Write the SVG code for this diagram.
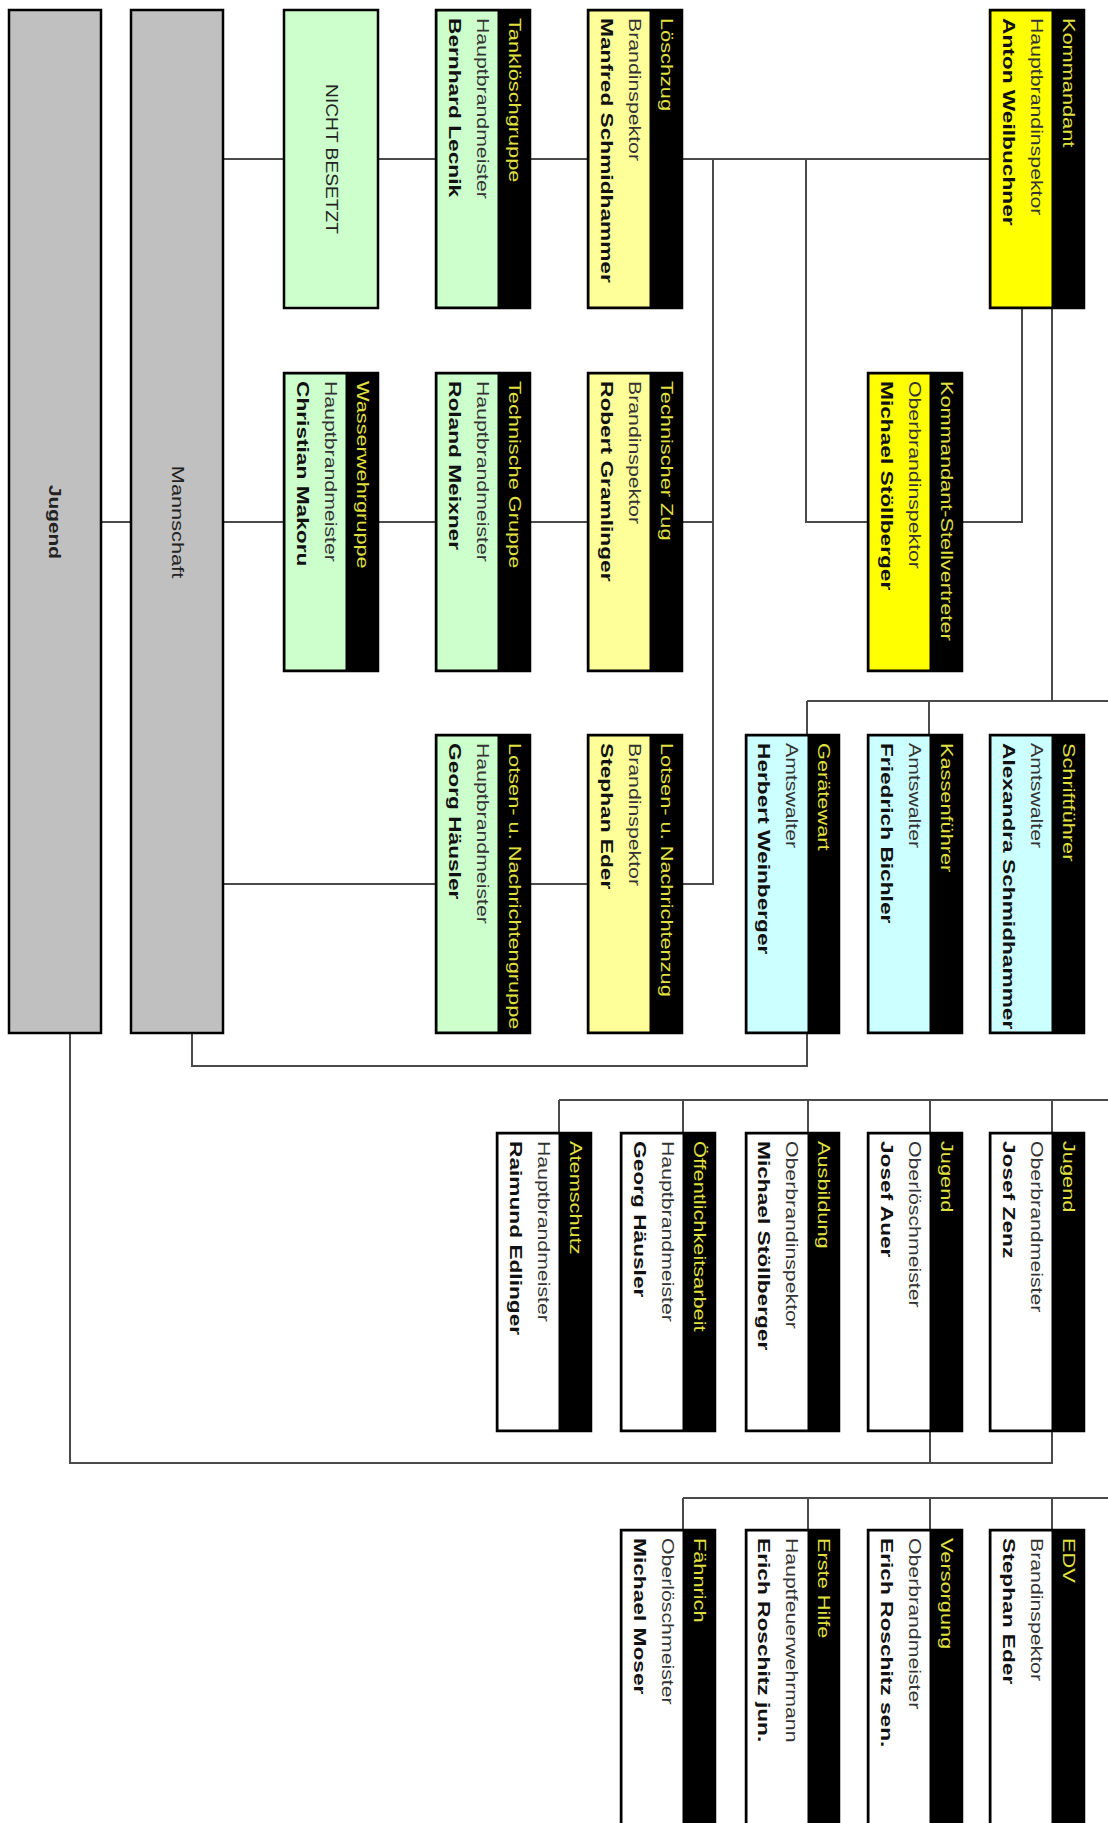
<svg xmlns="http://www.w3.org/2000/svg" width="1108" height="1823" viewBox="0 0 1108 1823">
<style>
.bg{fill:#ffffff}
.conn line,.conn polyline{stroke:#4a4a4a;stroke-width:2;fill:none}
.frame{fill:#000;stroke:#000;stroke-width:2.5}
.body{stroke:#000;stroke-width:1}
.y{fill:#ffff00}.ly{fill:#ffff99}.g{fill:#ccffcc}.c{fill:#ccffff}.w{fill:#ffffff}.gr{fill:#c0c0c0;stroke:#000;stroke-width:2.5}
text{font-family:"Liberation Sans",Arial,sans-serif;font-size:16px;dominant-baseline:central}
.title{fill:#e0e040}
.rank{fill:#333333}
.name{fill:#111111;font-weight:bold}
.plain{fill:#222222}
</style>
<rect class="bg" x="0" y="0" width="1108" height="1823"/>
<g id="connectors" class="conn">
<line x1="223" y1="159" x2="990" y2="159"/>
<polyline points="713,159 713,884 223,884"/>
<polyline points="806,159 806,522 868,522"/>
<line x1="101" y1="522" x2="713" y2="522"/>
<polyline points="962,522 1022,522 1022,308"/>
<line x1="1052" y1="308" x2="1052" y2="701"/>
<line x1="807" y1="701" x2="1108" y2="701"/>
<line x1="807" y1="701" x2="807" y2="735"/>
<line x1="929" y1="701" x2="929" y2="735"/>
<polyline points="807,1033 807,1066 192,1066 192,1033"/>
<line x1="559" y1="1100" x2="1108" y2="1100"/>
<line x1="559" y1="1100" x2="559" y2="1133"/>
<line x1="683" y1="1100" x2="683" y2="1133"/>
<line x1="808" y1="1100" x2="808" y2="1133"/>
<line x1="930" y1="1100" x2="930" y2="1133"/>
<line x1="1052" y1="1100" x2="1052" y2="1133"/>
<polyline points="70,1033 70,1463 1052,1463 1052,1431"/>
<line x1="930" y1="1431" x2="930" y2="1463"/>
<line x1="683" y1="1498" x2="1108" y2="1498"/>
<line x1="683" y1="1498" x2="683" y2="1530"/>
<line x1="808" y1="1498" x2="808" y2="1530"/>
<line x1="930" y1="1498" x2="930" y2="1530"/>
<line x1="1052" y1="1498" x2="1052" y2="1530"/>
</g>

<g id="jugend-gruppe">
<rect class="gr" x="9" y="10" width="92" height="1023"/>
<text class="plain" font-weight="bold" transform="translate(55,522) rotate(90) scale(1.3,1)" text-anchor="middle">Jugend</text>
</g>
<g id="mannschaft">
<rect class="gr" x="131" y="10" width="92" height="1023"/>
<text class="plain" transform="translate(177,522) rotate(90) scale(1.36,1)" text-anchor="middle">Mannschaft</text>
</g>

<g id="nicht-besetzt">
<rect class="g" x="284" y="10" width="94" height="298" stroke="#000" stroke-width="2.5"/>
<text class="plain" transform="translate(331,159) rotate(90) scale(1.2,1)" text-anchor="middle">NICHT BESETZT</text>
</g>

<g id="tankloeschgruppe">
<rect class="frame" x="436" y="10" width="94" height="298"/>
<rect class="body g" x="437" y="11" width="61" height="296"/>
<text class="title" transform="translate(514,18) rotate(90) scale(1.36,1)">Tanklöschgruppe</text>
<text class="rank" transform="translate(483,18) rotate(90) scale(1.33,1)">Hauptbrandmeister</text>
<text class="name" transform="translate(455,18) rotate(90) scale(1.42,1)">Bernhard Lecnik</text>
</g>

<g id="loeschzug">
<rect class="frame" x="588" y="10" width="94" height="298"/>
<rect class="body ly" x="589" y="11" width="61" height="296"/>
<text class="title" transform="translate(666,18) rotate(90) scale(1.36,1)">Löschzug</text>
<text class="rank" transform="translate(635,18) rotate(90) scale(1.33,1)">Brandinspektor</text>
<text class="name" transform="translate(607,18) rotate(90) scale(1.42,1)">Manfred Schmidhammer</text>
</g>

<g id="kommandant">
<rect class="frame" x="990" y="10" width="94" height="298"/>
<rect class="body y" x="991" y="11" width="61" height="296"/>
<text class="title" transform="translate(1068,18) rotate(90) scale(1.36,1)">Kommandant</text>
<text class="rank" transform="translate(1037,18) rotate(90) scale(1.33,1)">Hauptbrandinspektor</text>
<text class="name" transform="translate(1009,18) rotate(90) scale(1.42,1)">Anton Weilbuchner</text>
</g>

<g id="wasserwehrgruppe">
<rect class="frame" x="284" y="373" width="94" height="298"/>
<rect class="body g" x="285" y="374" width="61" height="296"/>
<text class="title" transform="translate(362,381) rotate(90) scale(1.36,1)">Wasserwehrgruppe</text>
<text class="rank" transform="translate(331,381) rotate(90) scale(1.33,1)">Hauptbrandmeister</text>
<text class="name" transform="translate(303,381) rotate(90) scale(1.42,1)">Christian Makoru</text>
</g>

<g id="technische-gruppe">
<rect class="frame" x="436" y="373" width="94" height="298"/>
<rect class="body g" x="437" y="374" width="61" height="296"/>
<text class="title" transform="translate(514,381) rotate(90) scale(1.36,1)">Technische Gruppe</text>
<text class="rank" transform="translate(483,381) rotate(90) scale(1.33,1)">Hauptbrandmeister</text>
<text class="name" transform="translate(455,381) rotate(90) scale(1.42,1)">Roland Meixner</text>
</g>

<g id="technischer-zug">
<rect class="frame" x="588" y="373" width="94" height="298"/>
<rect class="body ly" x="589" y="374" width="61" height="296"/>
<text class="title" transform="translate(666,381) rotate(90) scale(1.36,1)">Technischer Zug</text>
<text class="rank" transform="translate(635,381) rotate(90) scale(1.33,1)">Brandinspektor</text>
<text class="name" transform="translate(607,381) rotate(90) scale(1.42,1)">Robert Gramlinger</text>
</g>

<g id="kommandant-stellvertreter">
<rect class="frame" x="868" y="373" width="94" height="298"/>
<rect class="body y" x="869" y="374" width="61" height="296"/>
<text class="title" transform="translate(946,381) rotate(90) scale(1.36,1)">Kommandant-Stellvertreter</text>
<text class="rank" transform="translate(915,381) rotate(90) scale(1.33,1)">Oberbrandinspektor</text>
<text class="name" transform="translate(887,381) rotate(90) scale(1.42,1)">Michael Stöllberger</text>
</g>

<g id="lotsen-gruppe">
<rect class="frame" x="436" y="735" width="94" height="298"/>
<rect class="body g" x="437" y="736" width="61" height="296"/>
<text class="title" transform="translate(514,743) rotate(90) scale(1.36,1)">Lotsen- u. Nachrichtengruppe</text>
<text class="rank" transform="translate(483,743) rotate(90) scale(1.33,1)">Hauptbrandmeister</text>
<text class="name" transform="translate(455,743) rotate(90) scale(1.42,1)">Georg Häusler</text>
</g>

<g id="lotsen-zug">
<rect class="frame" x="588" y="735" width="94" height="298"/>
<rect class="body ly" x="589" y="736" width="61" height="296"/>
<text class="title" transform="translate(666,743) rotate(90) scale(1.36,1)">Lotsen- u. Nachrichtenzug</text>
<text class="rank" transform="translate(635,743) rotate(90) scale(1.33,1)">Brandinspektor</text>
<text class="name" transform="translate(607,743) rotate(90) scale(1.42,1)">Stephan Eder</text>
</g>

<g id="geraetewart">
<rect class="frame" x="746" y="735" width="93" height="298"/>
<rect class="body c" x="747" y="736" width="61" height="296"/>
<text class="title" transform="translate(823,743) rotate(90) scale(1.36,1)">Gerätewart</text>
<text class="rank" transform="translate(792,743) rotate(90) scale(1.33,1)">Amtswalter</text>
<text class="name" transform="translate(764,743) rotate(90) scale(1.42,1)">Herbert Weinberger</text>
</g>

<g id="kassenfuehrer">
<rect class="frame" x="868" y="735" width="94" height="298"/>
<rect class="body c" x="869" y="736" width="61" height="296"/>
<text class="title" transform="translate(946,743) rotate(90) scale(1.36,1)">Kassenführer</text>
<text class="rank" transform="translate(915,743) rotate(90) scale(1.33,1)">Amtswalter</text>
<text class="name" transform="translate(887,743) rotate(90) scale(1.42,1)">Friedrich Bichler</text>
</g>

<g id="schriftfuehrer">
<rect class="frame" x="990" y="735" width="94" height="298"/>
<rect class="body c" x="991" y="736" width="61" height="296"/>
<text class="title" transform="translate(1068,743) rotate(90) scale(1.36,1)">Schriftführer</text>
<text class="rank" transform="translate(1037,743) rotate(90) scale(1.33,1)">Amtswalter</text>
<text class="name" transform="translate(1009,743) rotate(90) scale(1.42,1)">Alexandra Schmidhammer</text>
</g>

<g id="atemschutz">
<rect class="frame" x="497" y="1133" width="94" height="298"/>
<rect class="body w" x="498" y="1134" width="61" height="296"/>
<text class="title" transform="translate(575,1141) rotate(90) scale(1.36,1)">Atemschutz</text>
<text class="rank" transform="translate(544,1141) rotate(90) scale(1.33,1)">Hauptbrandmeister</text>
<text class="name" transform="translate(516,1141) rotate(90) scale(1.42,1)">Raimund Edlinger</text>
</g>

<g id="oeffentlichkeitsarbeit">
<rect class="frame" x="621" y="1133" width="94" height="298"/>
<rect class="body w" x="622" y="1134" width="61" height="296"/>
<text class="title" transform="translate(699,1141) rotate(90) scale(1.36,1)">Öffentlichkeitsarbeit</text>
<text class="rank" transform="translate(668,1141) rotate(90) scale(1.33,1)">Hauptbrandmeister</text>
<text class="name" transform="translate(640,1141) rotate(90) scale(1.42,1)">Georg Häusler</text>
</g>

<g id="ausbildung">
<rect class="frame" x="746" y="1133" width="93" height="298"/>
<rect class="body w" x="747" y="1134" width="61" height="296"/>
<text class="title" transform="translate(823,1141) rotate(90) scale(1.36,1)">Ausbildung</text>
<text class="rank" transform="translate(792,1141) rotate(90) scale(1.33,1)">Oberbrandinspektor</text>
<text class="name" transform="translate(764,1141) rotate(90) scale(1.42,1)">Michael Stöllberger</text>
</g>

<g id="jugend-1">
<rect class="frame" x="868" y="1133" width="94" height="298"/>
<rect class="body w" x="869" y="1134" width="61" height="296"/>
<text class="title" transform="translate(946,1141) rotate(90) scale(1.36,1)">Jugend</text>
<text class="rank" transform="translate(915,1141) rotate(90) scale(1.33,1)">Oberlöschmeister</text>
<text class="name" transform="translate(887,1141) rotate(90) scale(1.42,1)">Josef Auer</text>
</g>

<g id="jugend-2">
<rect class="frame" x="990" y="1133" width="94" height="298"/>
<rect class="body w" x="991" y="1134" width="61" height="296"/>
<text class="title" transform="translate(1068,1141) rotate(90) scale(1.36,1)">Jugend</text>
<text class="rank" transform="translate(1037,1141) rotate(90) scale(1.33,1)">Oberbrandmeister</text>
<text class="name" transform="translate(1009,1141) rotate(90) scale(1.42,1)">Josef Zenz</text>
</g>

<g id="faehnrich">
<rect class="frame" x="621" y="1530" width="94" height="310"/>
<rect class="body w" x="622" y="1531" width="61" height="308"/>
<text class="title" transform="translate(699,1538) rotate(90) scale(1.36,1)">Fähnrich</text>
<text class="rank" transform="translate(668,1538) rotate(90) scale(1.33,1)">Oberlöschmeister</text>
<text class="name" transform="translate(640,1538) rotate(90) scale(1.42,1)">Michael Moser</text>
</g>

<g id="erste-hilfe">
<rect class="frame" x="746" y="1530" width="93" height="310"/>
<rect class="body w" x="747" y="1531" width="61" height="308"/>
<text class="title" transform="translate(823,1538) rotate(90) scale(1.36,1)">Erste Hilfe</text>
<text class="rank" transform="translate(792,1538) rotate(90) scale(1.33,1)">Hauptfeuerwehrmann</text>
<text class="name" transform="translate(764,1538) rotate(90) scale(1.42,1)">Erich Roschitz jun.</text>
</g>

<g id="versorgung">
<rect class="frame" x="868" y="1530" width="94" height="310"/>
<rect class="body w" x="869" y="1531" width="61" height="308"/>
<text class="title" transform="translate(946,1538) rotate(90) scale(1.36,1)">Versorgung</text>
<text class="rank" transform="translate(915,1538) rotate(90) scale(1.33,1)">Oberbrandmeister</text>
<text class="name" transform="translate(887,1538) rotate(90) scale(1.42,1)">Erich Roschitz sen.</text>
</g>

<g id="edv">
<rect class="frame" x="990" y="1530" width="94" height="310"/>
<rect class="body w" x="991" y="1531" width="61" height="308"/>
<text class="title" transform="translate(1068,1538) rotate(90) scale(1.36,1)">EDV</text>
<text class="rank" transform="translate(1037,1538) rotate(90) scale(1.33,1)">Brandinspektor</text>
<text class="name" transform="translate(1009,1538) rotate(90) scale(1.42,1)">Stephan Eder</text>
</g>
</svg>
